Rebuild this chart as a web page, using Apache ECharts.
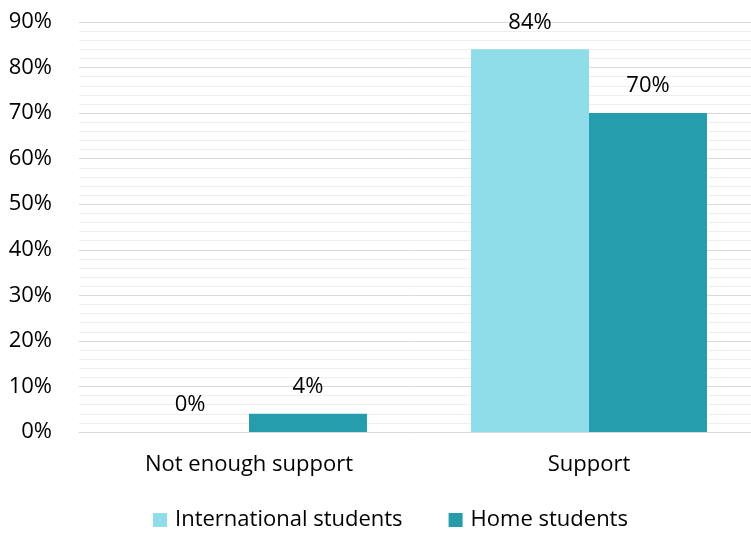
<!DOCTYPE html>
<html>
<head>
<meta charset="utf-8">
<script src="https://cdn.jsdelivr.net/npm/echarts@6/dist/echarts.min.js"></script>
<style>
    html, body {margin: 0; padding: 0; background: #fff;}
    #chart {width: 751px; height: 533px;}
</style>
</head>
<body>
<div id="chart"></div>
<script>
let categories = ['Not enough support', 'Support']
let international = [0, 84]
let home = [4, 70]
let yTicks = [0, 10, 20, 30, 40, 50, 60, 70, 80, 90]

let fontName = 'Open Sans'
let chartA = echarts.init(document.getElementById('chart'))
let option = {
    animation: false,
    textStyle: {fontFamily: fontName, color: '#000'},
    // plot runs slightly past the right edge, like the original
    grid: {left: 79, width: 680, top: 22, height: 410, outerBoundsMode: 'none', containLabel: false},
    legend: {
        left: 148,
        bottom: -3,
        itemWidth: 14,
        itemHeight: 14,
        itemGap: 46,
        icon: 'rect',
        textStyle: {fontSize: 22, color: '#000', fontFamily: fontName, padding: [0, 0, 0, 3]},
        data: ['International students', 'Home students']
    },
    xAxis: {
        type: 'category',
        data: categories,
        axisLine: {show: true, lineStyle: {color: '#d9d9d9', width: 1}},
        axisTick: {show: false},
        axisLabel: {fontSize: 22, color: '#000', margin: 22}
    },
    yAxis: {
        type: 'value',
        min: yTicks[0],
        max: yTicks[yTicks.length - 1],
        interval: 10,
        axisLine: {show: false},
        axisTick: {show: false},
        axisLabel: {fontSize: 22, color: '#000', margin: 27, formatter: '{value}%'},
        splitLine: {lineStyle: {color: '#d9d9d9', width: 1}},
        minorTick: {show: false, splitNumber: 5},
        minorSplitLine: {show: true, lineStyle: {color: '#efefef', width: 1}}
    },
    series: [{
        name: 'International students',
        type: 'bar',
        data: international,
        barGap: '0%',
        barCategoryGap: '30.6%',
        itemStyle: {color: '#8fdde8'},
        label: {show: true, position: 'top', distance: 16, fontSize: 22, color: '#000', formatter: '{c}%'}
    }, {
        name: 'Home students',
        type: 'bar',
        data: home,
        barGap: '0%',
        barCategoryGap: '30.6%',
        itemStyle: {color: '#259dad'},
        label: {show: true, position: 'top', distance: 16, fontSize: 22, color: '#000', formatter: '{c}%'}
    }]
}
chartA.setOption(option)
</script>
</body>
</html>
